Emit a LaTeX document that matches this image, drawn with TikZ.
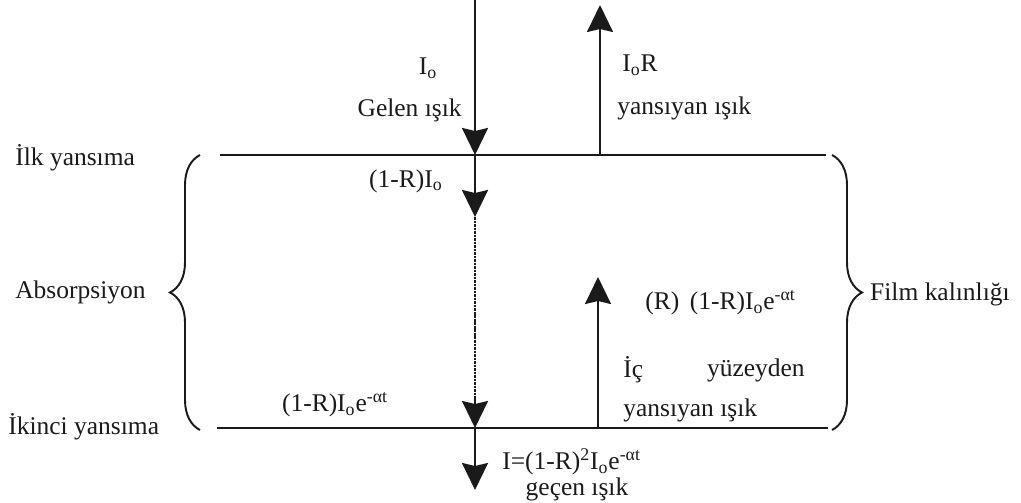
\documentclass[tikz,border=0pt]{standalone}
\usepackage{fontspec}
\setmainfont{Liberation Serif}
\usepackage{tikz}
\usetikzlibrary{positioning,arrows.meta,decorations.pathreplacing}
\definecolor{cnegro}{HTML}{1A1A1A}
\tikzset{
  isin/.style={-{Stealth[length=5.4mm, width=5.2mm, inset=0.6mm]}, line width=1.2pt, draw=cnegro},
  isinp/.style={line width=1.4pt, draw=cnegro, dash pattern=on 1.5pt off 0.5pt},
  yuzey/.style={line width=1.3pt, draw=cnegro},
  parantez/.style={decorate, decoration={brace, amplitude=0.6cm}, line width=1.1pt, draw=cnegro},
  etk/.style={font=\fontsize{14.5}{17}\selectfont, text=cnegro, inner sep=0pt},
}

\begin{document}
\begin{tikzpicture}[x=0.02cm, y=-0.02cm]
  \useasboundingbox (0,0) rectangle (1021,503);
  % yuzeyler
  \coordinate (ustA) at (220,155);  \coordinate (ustB) at (826,155);
  \coordinate (altA) at (217,428);  \coordinate (altB) at (828,428);
  \draw[yuzey] (ustA) -- (ustB);
  \draw[yuzey] (altA) -- (altB);
  % gelen ve gecen isin
  \coordinate (gir) at (475,0);
  \coordinate (ust1) at (475,155);
  \coordinate (ic1) at (475,217);
  \coordinate (ic2) at (475,398);
  \coordinate (alt1) at (475,428);
  \coordinate (cik) at (475,490);
  \draw[isin] (gir) -- (ust1);
  \draw[isin] (ust1) -- (ic1);
  \draw[isinp] (ic1) -- (ic2);
  \draw[isin] (ic2) -- (alt1);
  \draw[isin] (alt1) -- (cik);
  % yansiyan isinlar
  \coordinate (yu1) at (600,155);  \coordinate (yu2) at (600,5);
  \coordinate (ya1) at (598,428);  \coordinate (ya2) at (598,277);
  \draw[isin] (yu1) -- (yu2);
  \draw[isin] (ya1) -- (ya2);
  % parantezler
  \coordinate (solA) at (200,430);  \coordinate (solB) at (200,155);
  \coordinate (sagA) at (832,155);  \coordinate (sagB) at (832,430);
  \draw[parantez] (solA) -- (solB);
  \draw[parantez] (sagA) -- (sagB);
  % etiketler
  \node[etk] (io) at (428,68) {I\textsubscript{o}};
  \node[etk, anchor=east] (gelen) at (462,110) {Gelen ışık};
  \node[etk] (ior) at (640,65) {I\textsubscript{o}R};
  \node[etk, anchor=west] (yans) at (617,108) {yansıyan ışık};
  \node[etk, anchor=west] (ilk) at (15,158) {İlk yansıma};
  \node[etk, anchor=west] (abs) at (15,292) {Absorpsiyon};
  \node[etk, anchor=west] (ikinci) at (8,427) {İkinci yansıma};
  \node[etk, anchor=east] (film) at (1010,294) {Film kalınlığı};
  \node[etk, anchor=east] (g1) at (443,181) {(1-R)I\textsubscript{o}};
  \node[etk] (g2) at (335,405) {(1-R)I\textsubscript{o}e\textsuperscript{-αt}};
  \node[etk, anchor=west] (r2) at (645,303) {(R)\, (1-R)I\textsubscript{o}e\textsuperscript{-αt}};
  \node[etk, anchor=west] (ic) at (623,370) {İç};
  \node[etk, anchor=east] (yuz) at (805,370) {yüzeyden};
  \node[etk, anchor=west] (yans2) at (623,410) {yansıyan ışık};
  \node[etk, anchor=west] (son) at (502,462) {I=(1-R)\textsuperscript{2}I\textsubscript{o}e\textsuperscript{-αt}};
  \node[etk] (gecen) at (577,489) {geçen ışık};
\end{tikzpicture}
\end{document}
